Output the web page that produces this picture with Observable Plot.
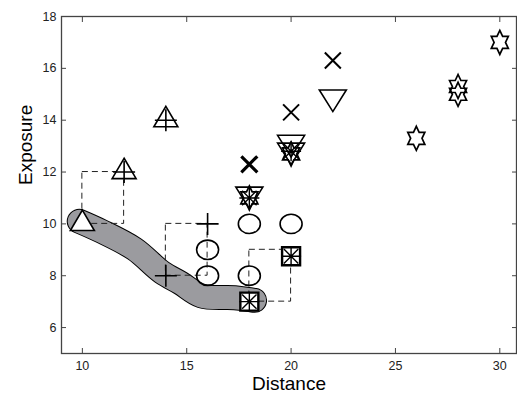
<!DOCTYPE html>
<html><head><meta charset="utf-8">
<script src="https://cdn.jsdelivr.net/npm/d3@7"></script>
<script src="https://cdn.jsdelivr.net/npm/@observablehq/plot@0.6"></script>
<style>body{margin:0;background:#fff} svg{display:block}</style>
</head><body><div id="chart"></div>
<script>
const xTicks = [10, 15, 20, 25, 30];
const yTicks = [6, 8, 10, 12, 14, 16, 18];

const triUpDistance = [10, 12, 14];
const triUpExposure = [10, 12, 14];
const plusDistance = [12, 14, 14, 16];
const plusExposure = [12, 14, 8, 10];
const circleDistance = [16, 16, 18, 18, 20];
const circleExposure = [9, 8, 10, 8, 10];
const squareDistance = [18, 20];
const squareExposure = [7, 8.75];
const asteriskDistance = [18, 20, 18, 20];
const asteriskExposure = [7, 8.75, 11, 12.8];
const crossDistance = [18, 20, 22];
const crossExposure = [12.3, 14.3, 16.3];
const triDownDistance = [18, 20, 20, 22];
const triDownExposure = [11, 13, 12.7, 14.75];
const hexDistance = [26, 28, 28, 30, 18, 20];
const hexExposure = [13.3, 15.3, 15.0, 17, 11, 12.7];
const routeDistance = [9.85, 10.9, 12.5, 13.8, 14.7, 15.7, 17.3, 18.25];
const routeExposure = [10.1, 9.72, 9.03, 8.14, 7.72, 7.22, 7.15, 7.05];
const boxDistFrom = [10, 14, 18];
const boxDistTo = [12, 16, 20];
const boxExpFrom = [10, 8, 7];
const boxExpTo = [12, 10, 9];

const pts = (xs, ys) => xs.map((x, i) => ({x, y: ys[i]}));
const sym = (fn) => ({draw(ctx, size) { fn(ctx, Math.sqrt(size / Math.PI)); }});

const triUp = sym((c, r) => { c.moveTo(0, -1.15 * r); c.lineTo(r, 0.55 * r); c.lineTo(-r, 0.55 * r); c.closePath(); });
const triDown = sym((c, r) => { const h = 1.6 * r; c.moveTo(-r, -h / 2); c.lineTo(r, -h / 2); c.lineTo(0, h / 2); c.closePath(); });
const plus = sym((c, r) => { c.moveTo(-r, 0); c.lineTo(r, 0); c.moveTo(0, -r); c.lineTo(0, r); });
const times = sym((c, r) => { c.moveTo(-r, -r); c.lineTo(r, r); c.moveTo(-r, r); c.lineTo(r, -r); });
const asterisk = sym((c, r) => { const d = r * 0.72; c.moveTo(-r, 0); c.lineTo(r, 0); c.moveTo(0, -r); c.lineTo(0, r); c.moveTo(-d, -d); c.lineTo(d, d); c.moveTo(-d, d); c.lineTo(d, -d); });
const square = sym((c, r) => { c.moveTo(-r, -r); c.lineTo(r, -r); c.lineTo(r, r); c.lineTo(-r, r); c.closePath(); });
const ellipse = sym((c, r) => {
  const rx = r, ry = 0.88 * r, k = 0.5523;
  c.moveTo(rx, 0);
  c.bezierCurveTo(rx, k * ry, k * rx, ry, 0, ry);
  c.bezierCurveTo(-k * rx, ry, -rx, k * ry, -rx, 0);
  c.bezierCurveTo(-rx, -k * ry, -k * rx, -ry, 0, -ry);
  c.bezierCurveTo(k * rx, -ry, rx, -k * ry, rx, 0);
  c.closePath();
});
const hexagram = sym((c, r) => {
  const ri = r / Math.sqrt(3);
  for (let k = 0; k < 12; k++) {
    const a = (-90 + k * 30) * Math.PI / 180, rr = k % 2 ? ri : r;
    const px = 0.82 * rr * Math.cos(a), py = rr * Math.sin(a);
    k ? c.lineTo(px, py) : c.moveTo(px, py);
  }
  c.closePath();
});

const boxes = boxDistFrom.map((d, i) => ({x1: d, x2: boxDistTo[i], y1: boxExpFrom[i], y2: boxExpTo[i]}));
const route = pts(routeDistance, routeExposure);
const ink = "#000";

const chart = Plot.plot({
  width: 517, height: 393,
  marginLeft: 61, marginRight: 1, marginTop: 16, marginBottom: 40,
  x: {domain: [9, 30.8]},
  y: {domain: [5, 18]},
  style: {fontFamily: "'Liberation Sans', Arial, sans-serif", fontSize: "12.5px", color: "#222", background: "#fff"},
  marks: [
    Plot.line(route, {x: "x", y: "y", stroke: "#000", strokeWidth: 25, curve: "catmull-rom", strokeLinecap: "round", strokeLinejoin: "round"}),
    Plot.line(route, {x: "x", y: "y", stroke: "#9b9b9f", strokeWidth: 23, curve: "catmull-rom", strokeLinecap: "round", strokeLinejoin: "round"}),
    Plot.rect(boxes, {x1: "x1", x2: "x2", y1: "y1", y2: "y2", fill: "none", stroke: "#222", strokeWidth: 1, strokeDasharray: "6,4"}),
    Plot.dot(pts(circleDistance, circleExposure), {x: "x", y: "y", symbol: ellipse, r: 11, fill: "none", stroke: ink, strokeWidth: 1.6}),
    Plot.dot(pts(triUpDistance, triUpExposure), {x: "x", y: "y", symbol: triUp, r: 12, fill: "#fff", stroke: ink, strokeWidth: 1.6}),
    Plot.dot(pts(plusDistance, plusExposure), {x: "x", y: "y", symbol: plus, r: 11, stroke: ink, strokeWidth: 1.6}),
    Plot.dot(pts(triDownDistance, triDownExposure), {x: "x", y: "y", symbol: triDown, r: 13.5, fill: "none", stroke: ink, strokeWidth: 1.6}),
    Plot.dot(pts(hexDistance, hexExposure), {x: "x", y: "y", symbol: hexagram, r: 12, fill: "none", stroke: ink, strokeWidth: 1.7}),
    Plot.dot(pts(squareDistance, squareExposure), {x: "x", y: "y", symbol: square, r: 9, fill: "#fff", stroke: ink, strokeWidth: 2.4}),
    Plot.dot(pts(asteriskDistance, asteriskExposure), {x: "x", y: "y", symbol: asterisk, r: 10, stroke: ink, strokeWidth: 1.4}),
    Plot.dot(pts(crossDistance, crossExposure), {x: "x", y: "y", symbol: times, r: 8, stroke: ink, strokeWidth: (d, i) => i === 0 ? 3.2 : 2}),
    Plot.frame({stroke: "#444", strokeWidth: 1.3}),
    Plot.axisX({ticks: xTicks, tickSize: 0, tickPadding: 8, label: null}),
    Plot.axisX({ticks: xTicks, tickSize: 5, dy: -5, tickFormat: () => "", label: null, stroke: "#444"}),
    Plot.axisX({anchor: "top", ticks: xTicks, tickSize: 5, dy: 5, tickFormat: () => "", label: null, stroke: "#444"}),
    Plot.axisY({ticks: yTicks, tickSize: 0, tickPadding: 5, label: null}),
    Plot.axisY({ticks: yTicks, tickSize: 5, dx: 5, tickFormat: () => "", label: null, stroke: "#444"}),
    Plot.axisY({anchor: "right", ticks: yTicks, tickSize: 5, dx: -5, tickFormat: () => "", label: null, stroke: "#444"}),
    Plot.text(["Distance"], {frameAnchor: "bottom", dy: 36, lineAnchor: "bottom", text: d => d, fontSize: 19, fill: "#000"}),
    Plot.text(["Exposure"], {frameAnchor: "left", dx: -29.5, rotate: -90, lineAnchor: "bottom", text: d => d, fontSize: 19, fill: "#000"})
  ]
});
document.getElementById("chart").appendChild(chart);
</script>
</body></html>
